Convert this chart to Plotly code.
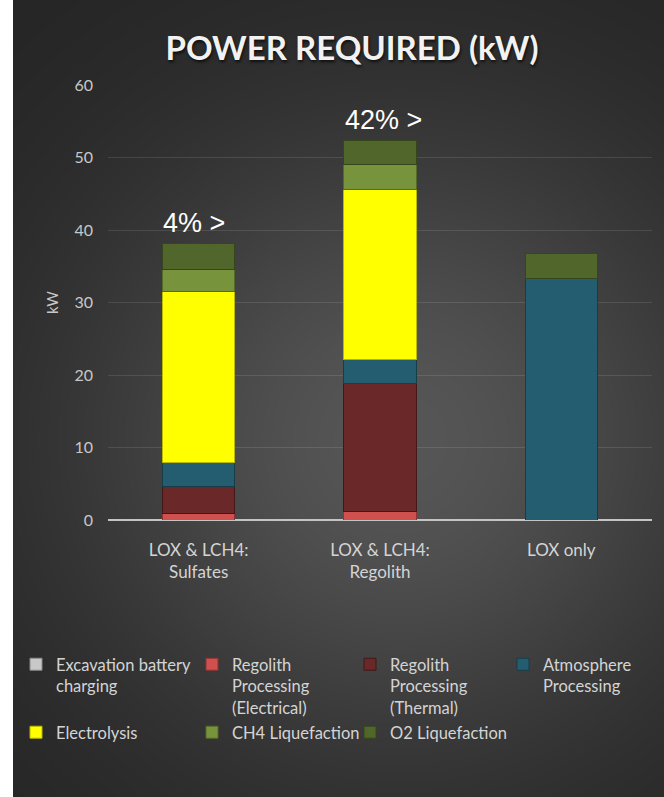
import base64
import struct
import zlib

import numpy as np
import plotly.graph_objects as go

# ---- data -----------------------------------------------------------------
categories = ["LOX & LCH4:<br>Sulfates", "LOX & LCH4:<br>Regolith", "LOX only"]

series_names = [
    "Excavation battery<br>charging",
    "Regolith<br>Processing<br>(Electrical)",
    "Regolith<br>Processing<br>(Thermal)",
    "Atmosphere<br>Processing",
    "Electrolysis",
    "CH4 Liquefaction",
    "O2 Liquefaction",
]

excavation = [0.0, 0.0, 0.0]
regolith_electrical = [0.9, 1.2, 0.0]
regolith_thermal = [3.7, 17.6, 0.0]
atmosphere = [3.4, 3.4, 33.3]
electrolysis = [23.5, 23.4, 0.0]
ch4_liquefaction = [3.1, 3.4, 0.0]
o2_liquefaction = [3.6, 3.4, 3.5]

pct_labels = ["4% >", "42% >", ""]

series_values = [excavation, regolith_electrical, regolith_thermal, atmosphere,
                 electrolysis, ch4_liquefaction, o2_liquefaction]
series_colors = ["#c8c8c8", "#d0504e", "#6b2828", "#245d6f",
                 "#ffff00", "#77933c", "#50662a"]
series_edges = ["#8a8a8a", "#8e3533", "#431818", "#173d49",
                "#b8b800", "#55692b", "#36461c"]

# ---- page geometry ----------------------------------------------------------
W, H = 664, 797
ML, MR, MT, MB = 108, 12, 85, 277
PW, PH = W - ML - MR, H - MT - MB

# legend grid: four columns, two rows (pixel positions of each entry's box)
legend_cols = [16, 192, 350, 503]
legend_rows = [647, 715]


def px_x(px):
    return (px - ML) / PW


def px_y(py):
    return (H - MB - py) / PH


def gray_png(arr):
    """Encode a 2-D uint8 array as a grayscale PNG."""
    h, w = arr.shape
    raw = b"".join(b"\x00" + arr[i].tobytes() for i in range(h))

    def chunk(tag, data):
        body = tag + data
        return struct.pack(">I", len(data)) + body + struct.pack(">I", zlib.crc32(body) & 0xFFFFFFFF)

    return (b"\x89PNG\r\n\x1a\n"
            + chunk(b"IHDR", struct.pack(">IIBBBBB", w, h, 8, 0, 0, 0, 0))
            + chunk(b"IDAT", zlib.compress(raw, 9))
            + chunk(b"IEND", b""))


# dark radial backdrop of the chart card
BG_X0 = 13
bw, bh = W - BG_X0, H
yy, xx = np.mgrid[0:bh, 0:bw].astype(float)
cx, cy = 400 - BG_X0, 440
d2 = ((xx - cx) / 330.0) ** 2 + ((yy - cy) / 320.0) ** 2
shade = 36 + 50 * np.exp(-d2)
bg_uri = "data:image/png;base64," + base64.b64encode(
    gray_png(np.clip(shade, 0, 255).astype(np.uint8))).decode()

fig = go.Figure()

legend_ids = ["legend"] + [f"legend{k}" for k in range(2, len(series_names) + 1)]

for name, vals, col, edge, lid in zip(series_names, series_values, series_colors,
                                      series_edges, legend_ids):
    fig.add_trace(go.Bar(
        x=categories, y=vals, name=name, legend=lid,
        marker=dict(color=col, line=dict(color=edge, width=1)),
        hoverinfo="x+y+name",
    ))

totals = [sum(v[i] for v in series_values) for i in range(len(categories))]
for i, (lab, tot) in enumerate(zip(pct_labels, totals)):
    if not lab:
        continue
    fig.add_annotation(
        x=i, y=tot, xref="x", yref="y", text=lab, showarrow=False,
        xanchor="left", yanchor="bottom", xshift=-0.2 * PW / 3 - 1, yshift=3,
        font=dict(family="Liberation Sans, Arial", size=27, color="#ffffff"),
    )

fig.add_layout_image(
    source=bg_uri, xref="paper", yref="paper",
    x=(BG_X0 - ML) / PW, y=(H - MB) / PH,
    sizex=bw / PW, sizey=H / PH,
    xanchor="left", yanchor="top", sizing="stretch", layer="below",
)

legend_style = dict(
    orientation="v", xanchor="left", yanchor="top", valign="top",
    font=dict(family="Lato, sans-serif", size=16.5, color="#d4d4d4"),
    bgcolor="rgba(0,0,0,0)", itemwidth=30, borderwidth=0,
)
legend_layout = {}
for k, lid in enumerate(legend_ids):
    row, col = divmod(k, 4)
    legend_layout[lid] = dict(legend_style,
                              x=px_x(legend_cols[col]), y=px_y(legend_rows[row]))

fig.update_layout(
    width=W, height=H,
    margin=dict(l=ML, r=MR, t=MT, b=MB, autoexpand=False),
    paper_bgcolor="#ffffff",
    plot_bgcolor="rgba(0,0,0,0)",
    barmode="stack",
    bargap=0.6,
    font=dict(family="Lato, Noto Sans, sans-serif", color="#d4d4d4"),
    title=dict(
        text="<b>POWER REQUIRED (kW)</b>",
        x=352 / W, xanchor="center", xref="container",
        y=1 - 48 / H, yanchor="middle",
        font=dict(family="Lato, sans-serif", size=33, color="#f2f2f2",
                  shadow="1px 2px 3px rgba(0,0,0,0.7)"),
    ),
    showlegend=True,
    xaxis=dict(
        showgrid=False, showline=False, ticks="",
        tickfont=dict(size=17, color="#d4d4d4"),
        ticklabelstandoff=18,
    ),
    yaxis=dict(
        range=[0, 60], dtick=10, showgrid=True,
        gridcolor="rgba(255,255,255,0.11)", gridwidth=1,
        zeroline=True, zerolinecolor="#c4c4c4", zerolinewidth=2,
        showline=False, ticks="",
        tickfont=dict(size=16, color="#c8c8c8"),
        ticklabelstandoff=14,
        title=dict(text="kW", font=dict(size=15, color="#c8c8c8"), standoff=12),
    ),
    **legend_layout,
)

fig.write_html("out.html")
